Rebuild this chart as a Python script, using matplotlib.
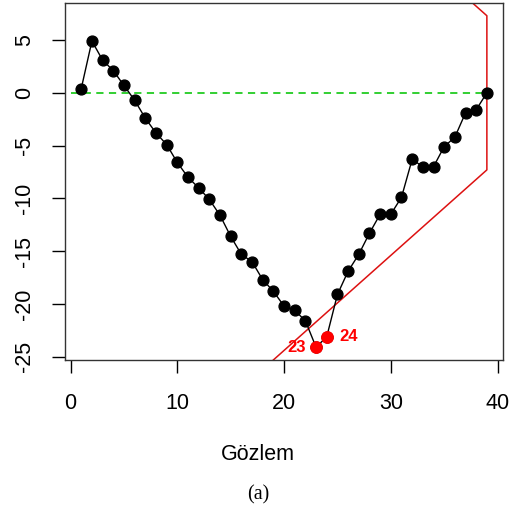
import numpy as np
import matplotlib
matplotlib.use("Agg")
from matplotlib import pyplot as plt

plt.rcParams['font.family'] = ['Liberation Sans', 'DejaVu Sans']
plt.rcParams['axes.unicode_minus'] = False

# cusum values per observation
obs = list(range(1, 40))
cusum = [0.4, 4.9, 3.1, 2.1, 0.7, -0.7, -2.4, -3.8, -4.9, -6.6,
         -8.0, -9.0, -10.1, -11.6, -13.6, -15.3, -16.0, -17.7, -18.8, -20.2,
         -20.6, -21.6, -24.1, -23.1, -19.1, -16.9, -15.3, -13.3, -11.5, -11.5,
         -9.9, -6.3, -7.0, -7.0, -5.1, -4.2, -1.9, -1.6, 0.0]

# out of control points
flag_obs = [23, 24]

# V-mask outline (lower arm, vertical edge, upper arm)
mask_x = [9, 39, 39, 9]
mask_y = [-34.3, -7.3, 7.3, 34.3]

fig = plt.figure(figsize=(5.16, 5.12), dpi=100)
ax = fig.add_axes([0.126, 0.297, 0.849, 0.697])

ax.plot([0, 39], [0, 0], color='#22cc22', linestyle=(0, (4, 3)), linewidth=1.3, zorder=1)
ax.plot(mask_x, mask_y, color='#dd1111', linewidth=1.1, zorder=2)
ax.plot(obs, cusum, color='black', linewidth=1.0, marker='o', markersize=7.8, zorder=3)

fy = [cusum[o - 1] for o in flag_obs]
ax.plot(flag_obs, fy, linestyle='none', marker='o', markersize=8.2, color='red', zorder=4)
ax.text(flag_obs[0] - 1.0, fy[0], str(flag_obs[0]), color='red', fontsize=12,
        fontweight='bold', ha='right', va='center')
ax.text(flag_obs[1] + 1.2, fy[1], str(flag_obs[1]), color='red', fontsize=12,
        fontweight='bold', ha='left', va='center')

ax.set_xlim(-0.52, 40.52)
ax.set_ylim(-25.3, 8.5)
ax.set_xticks([0, 10, 20, 30, 40])
ax.set_yticks([5, 0, -5, -10, -15, -20, -25])
ax.tick_params(axis='both', direction='out', length=9.5, width=1.0, labelsize=15.5, pad=14)
ax.tick_params(axis='y', pad=12)
for lab in ax.get_yticklabels():
    lab.set_rotation(90)
    lab.set_va('center')
for s in ax.spines.values():
    s.set_linewidth(1.0)
    s.set_color('#333333')

fig.text(0.5, 1 - 455 / 512, 'Gözlem', ha='center', va='center', fontsize=15.5)
fig.text(0.5, 1 - 495 / 512, '(a)', ha='center', va='center', fontsize=14.5,
         family=['Liberation Serif', 'DejaVu Serif'])

fig.savefig('out.png', dpi=100)
